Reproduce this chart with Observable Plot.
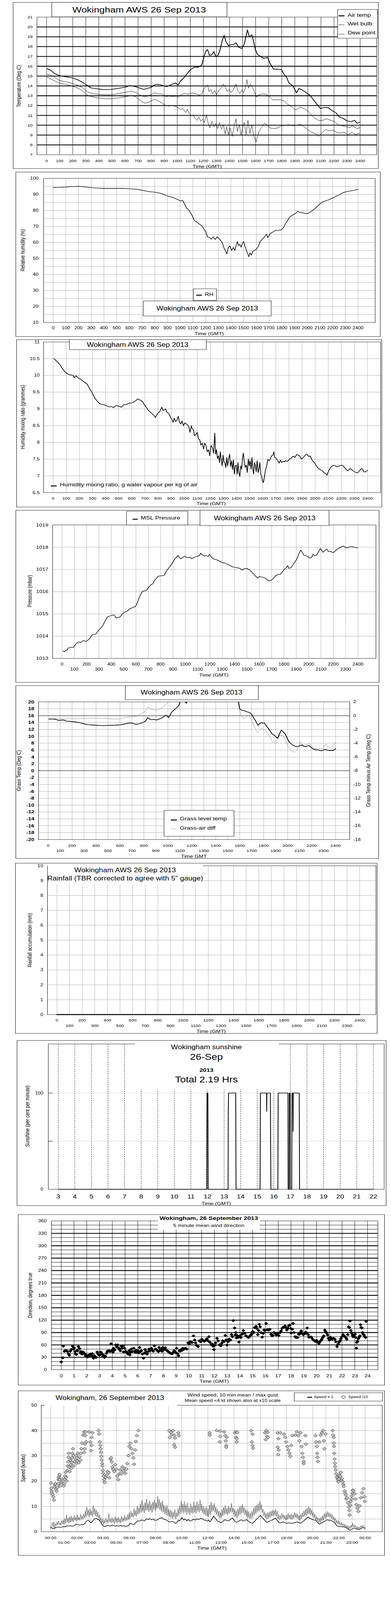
<!DOCTYPE html>
<html><head><meta charset="utf-8">
<script src="https://cdn.jsdelivr.net/npm/d3@7"></script>
<script src="https://cdn.jsdelivr.net/npm/@observablehq/plot@0.6"></script>
<style>
html,body{margin:0;padding:0;background:#fff;overflow:hidden;}
#page{position:relative;width:1000px;height:5000px;background:#fff;font-family:"Liberation Sans",Arial,Helvetica,sans-serif;color:#000;overflow:hidden;transform-origin:0 0;}
</style></head><body><div id="page"></div>
<script>
// ---------------- DATA ----------------
// time axis in HHMM-style units (100 per hour) for panels 1-6
const hhmmTicks = d3.range(0, 2401, 100);
const hhmmEven = d3.range(0, 2401, 200);
const hhmmOdd = d3.range(100, 2400, 200);
const tempTicks = d3.range(7, 22, 1);
const rhTicks = d3.range(10, 101, 10);
const mixTicks = [6.5,7,7.5,8,8.5,9,9.5,10,10.5,11];
const presTicks = [1013,1014,1015,1016,1017,1018,1019];
const grassTicks = d3.range(-20, 21, 2);
const diffTicks = d3.range(-18, 3, 2);
const rainTicks = d3.range(0, 11, 1);
const sunHours = d3.range(3, 23, 1);
const sunTicks = [0, 100];
const hours24 = d3.range(0, 25, 1);
const hoursEven = d3.range(0, 25, 2);
const hoursOdd = d3.range(1, 24, 2);
const dirTicks = d3.range(0, 361, 30);
const speedTicks = d3.range(0, 51, 10);

const airTemp = [[4,15.75],[31,15.6],[60,15.27],[98,15.05],[147,14.93],[195,14.82],[243,14.6],[282,14.3],[311,14.05],[340,13.8],[378,13.72],[436,13.62],[494,13.64],[552,13.76],[600,13.87],[639,14.04],[678,13.93],[716,13.76],[745,13.64],[774,13.76],[803,13.87],[832,14.15],[861,14.15],[890,14.04],[919,13.93],[958,14.15],[986,14.3],[1006,14.1],[1025,14.5],[1054,14.88],[1073,15.2],[1102,15.66],[1131,15.9],[1160,15.9],[1180,16.05],[1189,16.2],[1205,17.0],[1218,17.5],[1232,17.7],[1247,17.1],[1266,17.2],[1280,17.5],[1295,17.0],[1309,17.05],[1324,17.5],[1344,18.6],[1359,19.15],[1373,18.5],[1392,18.1],[1411,18.2],[1430,18.2],[1450,18.4],[1469,17.95],[1494,17.8],[1513,18.25],[1537,19.7],[1552,19.0],[1571,19.2],[1585,18.5],[1598,17.7],[1614,17.2],[1633,17.05],[1662,16.8],[1691,16.9],[1710,16.3],[1739,15.7],[1768,15.7],[1797,15.65],[1817,15.2],[1836,14.9],[1855,14.3],[1884,14.0],[1913,13.3],[1932,13.75],[1961,13.55],[1990,13.3],[2019,13.0],[2048,12.5],[2077,12.0],[2097,11.7],[2126,11.8],[2154,11.8],[2183,11.5],[2212,11.3],[2241,10.85],[2270,10.7],[2299,10.45],[2328,10.35],[2357,10.5],[2376,10.2],[2400,10.3]];
const wetBulb = [[4,15.2],[50,15.0],[98,14.55],[147,14.43],[195,14.26],[243,14.04],[282,13.76],[311,13.42],[340,13.25],[398,13.14],[456,13.1],[514,13.13],[562,13.25],[610,13.36],[649,13.48],[687,13.31],[716,13.08],[745,12.92],[774,12.97],[803,13.14],[826,13.3],[851,13.2],[880,13.2],[909,12.92],[938,12.97],[967,12.92],[996,12.97],[1006,12.8],[1025,13.08],[1054,13.25],[1083,13.14],[1112,13.3],[1141,13.2],[1170,13.08],[1189,13.2],[1205,13.76],[1218,13.87],[1232,14.1],[1243,13.42],[1257,13.64],[1270,13.2],[1286,13.53],[1301,13.08],[1317,13.53],[1334,13.76],[1353,14.2],[1367,13.87],[1382,13.42],[1398,13.64],[1411,13.3],[1430,13.64],[1450,14.2],[1463,13.53],[1479,13.2],[1494,13.59],[1508,13.3],[1521,13.76],[1533,14.65],[1546,13.76],[1560,14.2],[1575,13.87],[1591,13.42],[1604,12.86],[1624,13.08],[1653,13.2],[1681,13.14],[1701,12.97],[1730,12.58],[1768,12.58],[1797,12.58],[1817,12.47],[1846,12.13],[1874,11.9],[1903,11.57],[1923,11.68],[1942,11.85],[1971,11.68],[2000,11.46],[2029,11.01],[2058,10.67],[2087,10.45],[2116,10.5],[2144,10.67],[2173,10.5],[2202,10.39],[2231,10.05],[2260,9.94],[2290,9.88],[2318,9.77],[2338,9.94],[2357,9.83],[2376,9.66],[2400,9.77]];
const dewPoint = [[4,14.88],[50,14.6],[98,14.26],[147,14.15],[195,13.98],[243,13.76],[282,13.42],[311,13.08],[340,12.92],[398,12.75],[456,12.69],[514,12.71],[562,12.8],[610,12.92],[649,13.03],[678,12.92],[703,12.69],[726,12.41],[755,12.24],[784,12.35],[813,12.58],[832,12.63],[851,12.52],[880,12.3],[909,12.02],[938,11.96],[967,12.02],[986,11.9],[1006,11.79],[1025,11.62],[1044,11.68],[1064,11.29],[1077,11.62],[1093,11.17],[1108,10.95],[1122,11.06],[1135,10.73],[1151,10.5],[1166,10.84],[1180,10.39],[1195,10.61],[1208,10.28],[1224,11.06],[1237,10.17],[1251,9.72],[1266,10.39],[1282,9.83],[1295,10.17],[1309,9.66],[1324,10.28],[1338,9.61],[1353,10.05],[1367,9.1],[1378,9.83],[1392,9.04],[1405,9.72],[1421,8.87],[1436,9.94],[1450,10.67],[1459,9.38],[1475,10.05],[1488,8.99],[1502,9.83],[1513,10.28],[1527,9.04],[1541,10.5],[1556,9.15],[1571,10.05],[1585,8.93],[1595,8.59],[1604,8.31],[1614,8.82],[1629,9.49],[1649,9.83],[1668,10.22],[1687,10.0],[1710,9.72],[1739,9.66],[1768,9.72],[1797,9.94],[1826,10.0],[1855,10.05],[1884,9.94],[1913,10.0],[1942,10.11],[1971,9.83],[2000,9.55],[2029,9.27],[2058,9.15],[2081,8.87],[2106,9.21],[2135,9.55],[2163,9.44],[2192,9.49],[2221,9.27],[2250,9.21],[2280,9.27],[2309,9.04],[2338,9.27],[2367,9.04],[2400,9.21]];

const relHum = [[0,94.3],[50,94.4],[100,94.6],[150,94.9],[200,95.0],[250,94.7],[300,94.2],[350,93.9],[400,93.7],[450,93.7],[500,93.7],[550,93.8],[600,93.5],[650,93.3],[700,92.6],[750,91.8],[800,91.4],[850,90.6],[900,89.0],[950,87.9],[1000,86.0],[1020,86.2],[1050,81.5],[1070,80.0],[1093,77.0],[1113,73.5],[1130,72.8],[1150,71.5],[1172,70.3],[1190,68.0],[1202,66.5],[1215,63.5],[1232,63.0],[1245,62.0],[1260,63.5],[1275,61.8],[1291,63.5],[1305,62.5],[1320,61.0],[1331,60.0],[1345,56.5],[1355,55.0],[1367,52.8],[1378,56.5],[1391,57.8],[1405,55.0],[1418,56.8],[1431,55.0],[1442,58.5],[1450,60.5],[1460,58.0],[1470,58.8],[1480,57.0],[1490,59.5],[1500,60.6],[1510,57.5],[1520,55.5],[1530,53.5],[1540,51.0],[1550,53.5],[1560,52.0],[1570,54.3],[1585,55.0],[1600,55.7],[1615,57.5],[1629,60.3],[1649,62.3],[1665,63.5],[1679,65.2],[1690,63.0],[1709,65.6],[1730,66.5],[1749,67.6],[1775,67.5],[1798,67.9],[1815,69.5],[1828,71.6],[1845,73.5],[1858,75.6],[1888,77.2],[1910,78.2],[1927,79.5],[1945,78.6],[1967,78.5],[1985,78.0],[2007,78.2],[2025,79.0],[2046,80.2],[2066,81.5],[2086,82.9],[2106,84.5],[2126,85.5],[2146,86.0],[2166,86.5],[2185,87.2],[2205,87.8],[2225,88.8],[2245,89.5],[2265,90.3],[2285,91.2],[2315,91.8],[2344,92.2],[2370,92.6],[2400,93.1]];

const mixRatio = [[6,10.5],[20,10.45],[39,10.38],[55,10.3],[68,10.22],[87,10.12],[106,10.05],[125,10.02],[154,10.0],[160,9.93],[174,9.99],[193,9.92],[212,9.88],[231,9.82],[245,9.78],[260,9.74],[280,9.59],[295,9.5],[309,9.39],[322,9.3],[337,9.23],[357,9.15],[380,9.13],[405,9.1],[425,9.06],[444,9.07],[460,9.04],[480,9.1],[501,9.08],[520,9.05],[540,9.13],[559,9.13],[580,9.17],[598,9.18],[615,9.2],[636,9.26],[645,9.3],[656,9.28],[670,9.25],[685,9.2],[700,9.1],[714,9.03],[728,8.95],[743,8.9],[757,8.85],[771,8.8],[780,8.74],[790,8.82],[800,8.87],[815,8.93],[829,9.05],[840,8.95],[849,8.97],[858,9.0],[868,8.9],[877,8.88],[887,8.84],[896,8.75],[906,8.7],[915,8.6],[925,8.72],[935,8.62],[945,8.67],[955,8.78],[965,8.6],[975,8.55],[984,8.64],[995,8.5],[1005,8.58],[1022,8.54],[1035,8.48],[1045,8.3],[1055,8.5],[1061,8.41],[1070,8.38],[1080,8.2],[1090,8.24],[1100,8.3],[1110,8.1],[1119,8.08],[1128,7.92],[1138,7.98],[1148,7.8],[1157,7.98],[1167,7.91],[1176,7.72],[1186,7.78],[1195,7.6],[1205,7.9],[1215,7.85],[1225,7.68],[1234,8.28],[1240,7.65],[1247,7.78],[1254,7.52],[1262,7.6],[1270,7.4],[1276,7.72],[1283,7.49],[1290,7.3],[1297,7.62],[1304,7.42],[1311,7.39],[1318,7.25],[1325,7.55],[1332,7.3],[1340,7.52],[1347,7.65],[1354,7.28],[1362,7.45],[1369,7.19],[1376,7.48],[1383,7.05],[1390,7.3],[1398,7.32],[1405,7.05],[1411,7.4],[1418,7.09],[1425,6.98],[1432,7.3],[1439,7.2],[1446,7.55],[1452,7.68],[1460,7.4],[1467,7.25],[1475,7.32],[1482,7.1],[1490,7.5],[1497,7.3],[1504,7.45],[1511,7.2],[1518,7.55],[1524,7.22],[1530,7.05],[1537,7.4],[1543,7.32],[1550,7.12],[1557,7.45],[1565,7.1],[1572,7.22],[1578,7.4],[1585,7.05],[1591,6.99],[1598,6.85],[1605,6.8],[1612,6.95],[1620,7.16],[1630,7.3],[1639,7.49],[1649,7.45],[1659,7.52],[1668,7.6],[1678,7.62],[1685,7.72],[1690,7.55],[1697,7.55],[1706,7.5],[1716,7.45],[1725,7.38],[1735,7.47],[1745,7.4],[1755,7.44],[1765,7.42],[1775,7.46],[1785,7.43],[1794,7.45],[1804,7.5],[1815,7.52],[1832,7.59],[1845,7.55],[1860,7.64],[1871,7.62],[1885,7.58],[1896,7.5],[1909,7.55],[1920,7.6],[1930,7.64],[1938,7.65],[1950,7.58],[1960,7.6],[1967,7.55],[1980,7.45],[1996,7.39],[2010,7.3],[2025,7.22],[2040,7.18],[2054,7.16],[2068,7.1],[2083,7.06],[2090,7.02],[2100,7.12],[2112,7.22],[2125,7.28],[2141,7.32],[2155,7.3],[2168,7.27],[2179,7.29],[2193,7.31],[2208,7.32],[2222,7.26],[2237,7.19],[2250,7.15],[2266,7.22],[2280,7.18],[2295,7.14],[2310,7.1],[2324,7.09],[2338,7.15],[2353,7.22],[2362,7.2],[2372,7.12],[2385,7.12],[2401,7.17]];

const pressure = [[6,1013.33],[20,1013.3],[31,1013.35],[42,1013.38],[51,1013.47],[70,1013.5],[92,1013.49],[112,1013.64],[133,1013.74],[153,1013.72],[174,1013.81],[194,1013.76],[210,1013.82],[225,1013.89],[245,1014.06],[276,1014.1],[297,1014.27],[327,1014.44],[348,1014.66],[368,1014.86],[389,1014.91],[419,1014.96],[430,1014.9],[440,1014.81],[455,1014.84],[470,1014.86],[490,1015.0],[501,1015.05],[515,1015.1],[532,1015.13],[545,1015.22],[562,1015.25],[580,1015.31],[593,1015.32],[603,1015.4],[613,1015.54],[634,1015.83],[654,1016.02],[670,1016.04],[685,1016.05],[706,1016.22],[720,1016.3],[736,1016.36],[750,1016.5],[767,1016.61],[782,1016.7],[798,1016.71],[813,1016.72],[828,1016.73],[845,1016.9],[859,1017.02],[875,1017.12],[890,1017.24],[905,1017.38],[920,1017.51],[930,1017.55],[941,1017.63],[951,1017.55],[961,1017.48],[976,1017.52],[992,1017.6],[1007,1017.55],[1022,1017.53],[1038,1017.55],[1053,1017.48],[1063,1017.52],[1074,1017.55],[1090,1017.58],[1104,1017.6],[1115,1017.62],[1125,1017.73],[1140,1017.65],[1155,1017.6],[1170,1017.62],[1185,1017.58],[1196,1017.68],[1212,1017.55],[1227,1017.48],[1242,1017.45],[1258,1017.43],[1273,1017.38],[1288,1017.34],[1304,1017.3],[1319,1017.29],[1335,1017.25],[1350,1017.22],[1365,1017.18],[1380,1017.12],[1395,1017.1],[1411,1017.09],[1426,1017.07],[1442,1017.05],[1452,1017.0],[1462,1016.97],[1477,1017.03],[1493,1017.05],[1508,1017.02],[1524,1016.97],[1539,1016.88],[1554,1016.8],[1570,1016.7],[1585,1016.61],[1600,1016.68],[1616,1016.66],[1631,1016.65],[1646,1016.61],[1662,1016.55],[1677,1016.49],[1692,1016.5],[1708,1016.56],[1723,1016.65],[1739,1016.75],[1754,1016.77],[1769,1016.78],[1785,1016.88],[1800,1017.0],[1815,1017.05],[1830,1017.17],[1840,1017.05],[1851,1017.07],[1861,1017.1],[1871,1017.19],[1882,1017.28],[1892,1017.36],[1902,1017.45],[1912,1017.56],[1925,1017.75],[1937,1017.87],[1950,1017.75],[1963,1017.63],[1979,1017.62],[1994,1017.58],[2004,1017.52],[2014,1017.51],[2025,1017.55],[2035,1017.68],[2050,1017.62],[2066,1017.65],[2081,1017.8],[2096,1017.94],[2107,1017.85],[2117,1017.77],[2132,1017.85],[2147,1017.92],[2158,1017.82],[2168,1017.8],[2184,1017.8],[2199,1017.75],[2214,1017.82],[2229,1017.9],[2245,1017.95],[2260,1017.99],[2272,1018.03],[2284,1018.05],[2297,1018.0],[2311,1017.97],[2325,1018.0],[2340,1018.02],[2352,1018.03],[2365,1018.0],[2380,1017.98],[2399,1017.97]];

const grassTemp = [[6,15.07],[30,15.05],[53,14.98],[70,14.9],[84,14.66],[105,14.7],[126,14.75],[140,14.6],[152,14.43],[180,14.35],[211,14.24],[232,14.15],[253,14.02],[275,13.85],[295,13.7],[316,13.5],[337,13.38],[368,13.3],[400,13.22],[430,13.15],[463,13.09],[495,13.18],[526,13.22],[563,13.25],[600,13.31],[627,13.5],[653,13.7],[675,13.85],[695,13.86],[716,13.7],[737,13.47],[758,13.65],[779,13.86],[795,14.1],[811,14.34],[822,14.9],[832,15.46],[848,15.0],[863,14.82],[884,14.9],[905,14.75],[926,15.0],[947,15.3],[966,15.7],[985,16.16],[996,15.8],[1006,15.46],[1020,16.3],[1032,17.06],[1053,17.7],[1070,18.2],[1084,18.66],[1095,19.3],[1101,19.94],[1115,21.0],[1135,20.4],[1154,19.6],[1175,21.5],[1250,24],[1350,25],[1450,24],[1550,22],[1589,19.94],[1600,18.0],[1611,17.7],[1626,17.5],[1642,17.4],[1663,17.1],[1684,16.9],[1695,16.5],[1705,16.1],[1716,15.3],[1726,14.8],[1740,14.0],[1752,13.2],[1765,13.7],[1779,14.0],[1792,13.8],[1806,13.86],[1819,13.2],[1832,12.6],[1848,11.8],[1863,11.0],[1874,10.6],[1884,10.4],[1900,9.9],[1916,9.44],[1930,10.6],[1947,11.78],[1963,11.3],[1979,10.66],[1995,9.5],[2011,8.42],[2026,7.9],[2042,7.46],[2058,7.2],[2074,6.98],[2095,7.14],[2108,7.4],[2122,7.46],[2135,7.1],[2147,6.98],[2163,7.2],[2179,7.3],[2195,6.8],[2211,6.34],[2232,6.1],[2253,6.02],[2268,5.9],[2284,5.79],[2300,6.05],[2316,6.18],[2332,6.0],[2347,5.86],[2363,5.9],[2379,5.86],[2390,6.1],[2400,6.43]];
// grass minus air temperature, right-axis units
const grassAirDiff = [[6,-0.59],[30,-0.5],[53,-0.43],[75,-0.4],[100,-0.35],[120,-0.45],[137,-0.51],[160,-0.45],[190,-0.43],[220,-0.45],[253,-0.43],[285,-0.42],[316,-0.4],[337,-0.35],[368,-0.38],[400,-0.35],[432,-0.38],[463,-0.4],[495,-0.43],[526,-0.45],[560,-0.51],[600,-0.45],[632,-0.3],[653,-0.27],[674,-0.19],[695,-0.2],[716,-0.11],[737,-0.1],[758,0.1],[779,0.29],[795,0.45],[811,0.61],[822,1.0],[832,1.25],[848,1.05],[863,0.93],[884,0.85],[905,0.77],[926,0.95],[947,1.09],[968,1.4],[985,1.65],[997,1.9],[1006,2.0],[1030,2.8],[1150,3.5],[1300,3.5],[1420,2.8],[1470,2.2],[1484,1.9],[1500,2.4],[1560,2.6],[1589,2.0],[1600,0.8],[1611,0.05],[1626,-0.3],[1642,-0.43],[1658,-0.1],[1674,0.05],[1684,-0.3],[1695,-0.59],[1710,-1.1],[1726,-1.71],[1740,-2.2],[1752,-2.51],[1765,-2.1],[1779,-1.87],[1795,-2.0],[1810,-2.03],[1826,-2.4],[1842,-2.83],[1858,-3.3],[1874,-3.79],[1890,-3.9],[1905,-4.03],[1920,-3.4],[1933,-2.83],[1950,-2.9],[1968,-2.99],[1985,-3.7],[2000,-4.43],[2016,-4.8],[2032,-5.15],[2045,-5.2],[2059,-5.31],[2072,-5.1],[2084,-4.83],[2095,-4.3],[2105,-3.79],[2115,-4.1],[2126,-4.27],[2142,-4.3],[2158,-4.19],[2172,-4.15],[2185,-4.11],[2200,-4.4],[2221,-4.75],[2237,-4.8],[2253,-4.83],[2274,-4.8],[2295,-4.75],[2305,-4.4],[2316,-4.11],[2332,-4.5],[2347,-4.67],[2363,-4.55],[2379,-4.35],[2390,-4.1],[2400,-3.87]];

const rainfall = [[0,0],[2400,0]];

// sunshine, hours GMT vs per cent per minute
const sunshine = [[3,0],[11.95,0],[11.96,58],[11.97,100],[12.02,100],[12.03,58],[12.04,0],[13.24,0],[13.25,80],[13.27,100],[13.70,100],[13.72,0],[15.17,0],[15.19,100],[15.56,100],[15.57,81],[15.58,100],[15.79,100],[15.80,60],[15.82,0],[16.24,0],[16.26,100],[16.85,100],[16.86,0],[16.92,0],[16.93,100],[16.98,100],[16.99,0],[17.08,0],[17.09,100],[17.15,100],[17.16,60],[17.17,100],[17.53,100],[17.55,0],[22,0]];

// wind direction (5-min mean), hours vs degrees
const windDir = [[0.0,19],[0.12,29],[0.16,57],[0.24,45],[0.32,46],[0.43,46],[0.5,44],[0.59,38],[0.63,35],[0.71,45],[0.79,49],[0.89,57],[0.95,50],[1.0,53],[1.08,44],[1.14,38],[1.2,37],[1.24,47],[1.28,46],[1.34,56],[1.44,51],[1.5,41],[1.54,44],[1.58,43],[1.64,38],[1.7,43],[1.78,40],[1.84,39],[1.9,34],[1.97,35],[2.05,31],[2.13,35],[2.2,33],[2.29,38],[2.35,36],[2.43,39],[2.48,32],[2.53,28],[2.6,34],[2.67,31],[2.73,30],[2.82,43],[2.87,39],[2.93,36],[3.0,35],[3.08,43],[3.12,42],[3.18,38],[3.26,32],[3.33,35],[3.4,30],[3.46,33],[3.55,40],[3.61,45],[3.66,45],[3.75,46],[3.83,44],[3.91,63],[3.98,47],[4.05,43],[4.1,52],[4.18,48],[4.26,60],[4.35,55],[4.42,60],[4.49,53],[4.56,50],[4.63,46],[4.7,57],[4.77,52],[4.84,58],[4.88,43],[4.95,52],[5.05,45],[5.12,42],[5.19,41],[5.24,38],[5.33,46],[5.38,36],[5.43,42],[5.49,50],[5.58,44],[5.68,52],[5.75,45],[5.82,42],[5.88,47],[5.93,42],[6.02,46],[6.09,41],[6.14,54],[6.2,44],[6.28,46],[6.36,38],[6.44,28],[6.5,40],[6.57,49],[6.65,44],[6.72,38],[6.8,44],[6.87,50],[6.95,46],[7.07,52],[7.14,47],[7.21,45],[7.3,58],[7.38,50],[7.46,49],[7.54,46],[7.61,44],[7.66,54],[7.75,47],[7.83,50],[7.9,45],[7.95,54],[8.05,49],[8.15,53],[8.25,47],[8.35,45],[8.42,43],[8.5,41],[8.55,40],[8.65,39],[8.7,39],[8.78,42],[8.84,46],[8.92,43],[8.99,41],[9.04,52],[9.12,39],[9.19,34],[9.24,46],[9.33,45],[9.4,49],[9.47,47],[9.53,52],[9.63,50],[9.73,52],[9.83,50],[9.93,65],[10.03,63],[10.13,68],[10.25,66],[10.36,82],[10.45,72],[10.52,65],[10.62,59],[10.72,56],[10.82,70],[10.92,68],[11.01,74],[11.11,71],[11.21,69],[11.31,71],[11.41,75],[11.5,70],[11.57,80],[11.66,66],[11.76,60],[11.84,62],[11.9,57],[11.96,49],[12.03,59],[12.1,65],[12.2,76],[12.3,70],[12.4,60],[12.5,58],[12.57,64],[12.65,70],[12.75,68],[12.85,83],[12.92,72],[12.99,60],[13.07,68],[13.15,74],[13.25,72],[13.34,85],[13.41,80],[13.48,119],[13.58,101],[13.63,84],[13.68,90],[13.73,77],[13.78,83],[13.85,78],[13.92,67],[14.0,82],[14.08,78],[14.17,86],[14.27,95],[14.37,88],[14.47,82],[14.57,80],[14.67,78],[14.75,80],[14.82,83],[14.9,86],[15.0,93],[15.08,90],[15.16,102],[15.26,105],[15.33,100],[15.4,85],[15.46,95],[15.52,110],[15.58,104],[15.65,90],[15.75,79],[15.82,88],[15.89,96],[15.97,95],[16.05,112],[16.15,97],[16.25,96],[16.34,98],[16.44,86],[16.51,82],[16.58,83],[16.66,90],[16.74,89],[16.84,84],[16.94,88],[17.04,83],[17.14,90],[17.23,94],[17.3,100],[17.37,102],[17.45,104],[17.53,106],[17.6,102],[17.67,96],[17.75,100],[17.82,106],[17.9,108],[17.97,100],[18.02,89],[18.1,98],[18.16,112],[18.24,90],[18.32,80],[18.4,78],[18.46,79],[18.52,78],[18.6,86],[18.67,86],[18.74,90],[18.81,94],[18.89,88],[18.97,85],[19.05,87],[19.15,91],[19.22,88],[19.27,101],[19.35,85],[19.4,79],[19.5,79],[19.6,79],[19.7,74],[19.8,71],[19.9,69],[20.0,71],[20.1,66],[20.19,64],[20.27,68],[20.35,71],[20.42,74],[20.49,78],[20.57,82],[20.65,96],[20.72,92],[20.79,89],[20.87,84],[20.94,76],[21.02,72],[21.08,79],[21.16,76],[21.24,74],[21.34,76],[21.44,74],[21.52,68],[21.61,56],[21.69,62],[21.77,67],[21.84,70],[21.91,75],[21.99,80],[22.07,85],[22.15,82],[22.23,80],[22.3,78],[22.37,74],[22.45,85],[22.52,104],[22.57,102],[22.62,118],[22.69,95],[22.76,89],[22.81,84],[22.86,80],[22.94,83],[23.02,86],[23.07,78],[23.12,52],[23.16,66],[23.21,69],[23.28,75],[23.35,79],[23.4,82],[23.45,109],[23.5,102],[23.55,101],[23.6,90],[23.65,86],[23.72,84],[23.79,80],[23.84,78],[23.89,117]];

// wind speed: 10-min mean (x1), max gust, and mean speed x10 shown where < 4 kt
const meanSpeed = [[0.0,1.8],[0.06,1.6],[0.15,1.2],[0.29,1.4],[0.4,1.7],[0.58,1.8],[0.75,1.7],[0.96,2.0],[1.1,1.9],[1.2,2.3],[1.35,2.2],[1.5,2.4],[1.6,2.2],[1.73,2.2],[1.85,2.6],[1.93,3.0],[2.05,2.8],[2.22,2.6],[2.35,2.8],[2.5,2.8],[2.6,3.2],[2.7,4.0],[2.8,4.4],[2.89,4.5],[3.0,3.8],[3.08,3.5],[3.2,4.2],[3.3,4.8],[3.37,5.1],[3.5,5.2],[3.6,4.8],[3.66,4.9],[3.75,4.2],[3.85,3.5],[3.95,2.6],[4.08,2.0],[4.2,2.2],[4.3,2.5],[4.43,2.4],[4.55,2.2],[4.7,2.6],[4.82,2.4],[4.95,2.2],[5.05,2.4],[5.2,2.2],[5.35,2.5],[5.45,2.2],[5.59,2.4],[5.7,2.0],[5.8,2.3],[5.88,2.2],[6.0,2.8],[6.07,3.3],[6.2,3.0],[6.36,2.8],[6.5,3.6],[6.65,4.3],[6.8,4.2],[6.9,4.6],[7.03,4.5],[7.15,4.2],[7.32,5.1],[7.45,4.8],[7.55,5.2],[7.71,4.7],[7.85,5.0],[7.95,4.4],[8.09,4.5],[8.2,5.0],[8.35,5.3],[8.48,5.6],[8.6,5.0],[8.75,4.8],[8.86,4.5],[9.0,4.0],[9.1,3.8],[9.25,4.1],[9.4,3.8],[9.54,3.3],[9.65,3.8],[9.75,4.6],[9.83,4.3],[9.92,4.8],[10.02,5.6],[10.15,4.6],[10.25,5.0],[10.4,4.3],[10.5,4.8],[10.65,4.2],[10.79,4.5],[10.9,5.0],[11.05,4.6],[11.18,5.1],[11.3,4.8],[11.45,5.3],[11.56,5.1],[11.7,4.6],[11.85,4.5],[11.95,4.2],[12.05,4.6],[12.14,3.9],[12.25,4.6],[12.35,5.4],[12.43,6.2],[12.55,5.4],[12.65,4.8],[12.72,4.1],[12.85,4.0],[13.0,3.5],[13.1,3.9],[13.2,4.4],[13.3,4.7],[13.45,4.4],[13.58,4.3],[13.7,4.8],[13.87,5.4],[13.95,4.8],[14.05,4.2],[14.16,3.7],[14.3,4.0],[14.42,4.4],[14.55,4.7],[14.7,4.2],[14.84,4.5],[14.95,4.8],[15.05,4.3],[15.13,3.9],[15.25,3.6],[15.41,3.3],[15.55,4.0],[15.7,4.9],[15.85,5.6],[15.99,6.4],[16.1,5.8],[16.2,5.2],[16.28,4.9],[16.38,4.2],[16.47,3.7],[16.6,3.9],[16.75,4.3],[16.86,4.5],[17.0,4.9],[17.15,5.4],[17.3,4.4],[17.44,3.5],[17.6,3.6],[17.73,3.9],[17.85,3.6],[18.02,3.3],[18.2,3.5],[18.4,3.3],[18.6,3.5],[18.79,3.9],[18.95,3.6],[19.08,3.3],[19.22,3.9],[19.36,4.5],[19.5,5.2],[19.65,5.8],[19.8,5.2],[19.94,4.9],[20.1,4.6],[20.23,4.5],[20.4,3.5],[20.52,3.0],[20.65,3.4],[20.81,3.9],[20.95,4.3],[21.1,4.7],[21.25,4.5],[21.39,4.5],[21.55,4.0],[21.68,3.5],[21.78,2.8],[21.87,2.2],[22.0,2.1],[22.16,2.0],[22.3,1.9],[22.45,1.8],[22.6,1.4],[22.72,1.0],[22.83,0.55],[22.95,0.9],[23.12,1.4],[23.25,1.2],[23.4,1.0],[23.51,0.8],[23.65,1.2],[23.8,1.6],[23.9,1.5],[24.0,1.3]];
const gustSpeed = [[0.0,1.2],[0.06,2.5],[0.12,3.6],[0.18,1.8],[0.24,4.0],[0.3,1.0],[0.36,3.2],[0.42,2.2],[0.48,3.8],[0.54,2.6],[0.6,4.2],[0.66,2.8],[0.72,3.6],[0.78,2.4],[0.84,4.4],[0.9,3.0],[0.96,4.6],[1.02,2.8],[1.08,5.2],[1.14,3.2],[1.2,6.6],[1.26,3.8],[1.32,5.4],[1.38,3.4],[1.44,5.8],[1.5,3.6],[1.56,6.2],[1.62,4.0],[1.68,5.6],[1.74,3.8],[1.8,6.4],[1.86,4.4],[1.92,5.8],[1.98,4.2],[2.04,6.6],[2.1,4.6],[2.16,5.8],[2.22,4.4],[2.28,6.8],[2.34,4.8],[2.4,6.2],[2.46,5.0],[2.52,7.0],[2.58,5.4],[2.64,8.2],[2.7,5.6],[2.76,9.8],[2.82,6.4],[2.88,8.6],[2.94,5.8],[3.0,9.0],[3.06,6.6],[3.12,8.2],[3.18,6.0],[3.24,10.3],[3.3,6.8],[3.36,9.2],[3.42,6.2],[3.48,8.6],[3.54,5.6],[3.6,7.8],[3.66,5.2],[3.72,6.6],[3.78,4.2],[3.84,5.6],[3.9,3.4],[3.96,5.0],[4.02,2.8],[4.08,4.6],[4.14,3.2],[4.2,5.4],[4.26,3.6],[4.32,4.8],[4.38,3.4],[4.44,7.2],[4.5,3.8],[4.56,5.2],[4.62,3.4],[4.68,5.6],[4.74,3.6],[4.8,5.0],[4.86,3.2],[4.92,6.0],[4.98,3.8],[5.04,5.4],[5.1,3.4],[5.16,5.8],[5.22,3.6],[5.28,5.2],[5.34,3.4],[5.4,6.2],[5.46,3.8],[5.52,5.6],[5.58,4.0],[5.64,6.6],[5.7,4.2],[5.76,5.8],[5.82,4.4],[5.88,6.8],[5.94,4.8],[6.0,7.6],[6.06,5.2],[6.12,8.2],[6.18,5.8],[6.24,7.4],[6.3,5.6],[6.36,9.2],[6.42,6.2],[6.48,8.4],[6.54,6.0],[6.6,10.2],[6.66,6.8],[6.72,9.6],[6.78,7.2],[6.84,11.0],[6.9,7.6],[6.96,12.4],[7.02,8.0],[7.08,10.6],[7.14,7.4],[7.2,11.6],[7.26,8.2],[7.32,13.0],[7.38,8.6],[7.44,11.2],[7.5,7.8],[7.56,12.2],[7.62,8.4],[7.68,10.8],[7.74,7.6],[7.8,11.8],[7.86,8.8],[7.92,12.6],[7.98,8.2],[8.04,11.4],[8.1,9.0],[8.16,14.0],[8.22,9.4],[8.28,12.8],[8.34,8.6],[8.4,11.6],[8.46,8.0],[8.52,12.2],[8.58,7.6],[8.64,10.6],[8.7,7.0],[8.76,9.8],[8.82,6.6],[8.88,10.4],[8.94,6.4],[9.0,9.0],[9.06,5.8],[9.12,8.6],[9.18,5.4],[9.24,8.2],[9.3,5.2],[9.36,7.8],[9.42,5.6],[9.48,8.8],[9.54,5.0],[9.6,7.6],[9.66,5.8],[9.72,9.2],[9.78,6.2],[9.84,10.4],[9.9,7.0],[9.96,12.2],[10.02,7.8],[10.08,11.0],[10.14,7.2],[10.2,12.0],[10.26,7.6],[10.32,10.8],[10.38,6.8],[10.44,11.6],[10.5,7.4],[10.56,9.6],[10.62,6.6],[10.68,11.2],[10.74,7.4],[10.8,10.0],[10.86,7.0],[10.92,11.8],[10.98,7.6],[11.04,10.4],[11.1,7.2],[11.16,12.0],[11.22,8.0],[11.28,10.8],[11.34,7.6],[11.4,12.6],[11.46,8.2],[11.52,11.0],[11.58,7.4],[11.64,10.2],[11.7,6.8],[11.76,9.4],[11.82,6.4],[11.88,9.8],[11.94,6.0],[12.0,9.2],[12.06,5.8],[12.12,10.6],[12.18,6.6],[12.24,11.8],[12.3,7.8],[12.36,10.6],[12.42,8.4],[12.48,11.2],[12.54,7.6],[12.6,9.8],[12.66,6.8],[12.72,9.0],[12.78,6.0],[12.84,8.2],[12.9,5.4],[12.96,7.6],[13.02,5.6],[13.08,8.8],[13.14,6.2],[13.2,9.6],[13.26,6.8],[13.32,10.4],[13.38,7.0],[13.44,9.2],[13.5,6.6],[13.56,10.0],[13.62,7.2],[13.68,9.6],[13.74,7.8],[13.8,11.2],[13.86,7.6],[13.92,9.4],[13.98,6.4],[14.04,8.8],[14.1,5.8],[14.16,8.2],[14.22,5.4],[14.28,9.0],[14.34,6.2],[14.4,9.8],[14.46,6.8],[14.52,10.2],[14.58,7.2],[14.64,10.8],[14.7,7.4],[14.76,9.6],[14.82,6.6],[14.88,8.8],[14.94,6.0],[15.0,8.6],[15.06,5.4],[15.12,8.0],[15.18,5.2],[15.24,7.4],[15.3,5.0],[15.36,8.2],[15.42,5.6],[15.48,9.4],[15.54,6.4],[15.6,10.2],[15.66,7.0],[15.72,10.6],[15.78,7.6],[15.84,11.2],[15.9,8.0],[15.96,12.0],[16.02,8.6],[16.08,10.8],[16.14,7.4],[16.2,9.0],[16.26,6.2],[16.32,8.0],[16.38,5.4],[16.44,7.2],[16.5,5.0],[16.56,7.6],[16.62,5.2],[16.68,7.8],[16.74,5.6],[16.8,8.2],[16.86,6.0],[16.92,8.6],[16.98,6.2],[17.04,8.4],[17.1,6.4],[17.16,9.0],[17.22,6.0],[17.28,8.2],[17.34,5.0],[17.4,6.8],[17.46,4.6],[17.52,6.4],[17.58,5.0],[17.64,7.2],[17.7,5.4],[17.76,6.8],[17.82,5.0],[17.88,6.4],[17.94,4.6],[18.0,6.6],[18.06,4.8],[18.12,7.2],[18.18,5.2],[18.24,6.8],[18.3,5.0],[18.36,7.0],[18.42,4.8],[18.48,6.6],[18.54,5.2],[18.6,7.6],[18.66,5.6],[18.72,7.2],[18.78,5.4],[18.84,7.0],[18.9,4.8],[18.96,6.4],[19.02,4.4],[19.08,6.8],[19.14,5.2],[19.2,7.4],[19.26,5.8],[19.32,8.2],[19.38,6.2],[19.44,8.8],[19.5,6.4],[19.56,9.2],[19.62,6.8],[19.68,10.0],[19.74,7.0],[19.8,9.4],[19.86,6.6],[19.92,8.6],[19.98,6.0],[20.04,7.6],[20.1,5.4],[20.16,7.0],[20.22,4.6],[20.28,6.0],[20.34,4.2],[20.4,5.6],[20.46,3.8],[20.52,5.4],[20.58,3.6],[20.64,5.8],[20.7,4.2],[20.76,6.4],[20.82,4.6],[20.88,7.2],[20.94,5.2],[21.0,7.6],[21.06,5.6],[21.12,8.0],[21.18,5.8],[21.24,7.6],[21.3,5.6],[21.36,7.2],[21.42,5.2],[21.48,6.8],[21.54,4.6],[21.6,6.0],[21.66,4.0],[21.72,5.4],[21.78,3.4],[21.84,4.6],[21.9,3.0],[21.96,4.4],[22.02,2.8],[22.08,3.8],[22.14,2.4],[22.2,3.6],[22.26,2.2],[22.32,3.2],[22.38,2.0],[22.44,3.0],[22.5,1.6],[22.56,2.6],[22.62,1.4],[22.68,2.4],[22.74,1.0],[22.8,2.2],[22.86,1.2],[22.92,2.6],[22.98,1.6],[23.04,3.4],[23.1,1.8],[23.16,2.8],[23.22,1.6],[23.28,2.4],[23.34,1.2],[23.4,2.0],[23.46,1.0],[23.52,1.8],[23.58,1.2],[23.64,2.2],[23.7,1.6],[23.76,2.6],[23.82,1.8],[23.88,2.4],[23.94,1.8],[24.0,1.4]];
const speedX10 = [[0.02,19.2],[0.04,17.2],[0.06,16.1],[0.08,15.4],[0.15,14.7],[0.2,13.8],[0.25,12.5],[0.3,17.7],[0.33,18.6],[0.36,19.0],[0.4,16.8],[0.45,16.0],[0.52,17.5],[0.58,19.0],[0.6,20.6],[0.62,21.5],[0.65,22.0],[0.68,22.6],[0.7,20.6],[0.73,18.1],[0.8,19.5],[0.88,20.8],[0.95,19.2],[1.0,18.1],[1.03,19.0],[1.07,20.6],[1.1,22.0],[1.14,23.5],[1.18,21.5],[1.22,20.1],[1.27,24.2],[1.3,26.0],[1.33,27.6],[1.36,29.4],[1.38,31.0],[1.4,25.6],[1.45,23.8],[1.5,28.3],[1.53,26.5],[1.57,25.1],[1.6,27.4],[1.63,29.2],[1.66,31.0],[1.7,32.8],[1.73,30.1],[1.76,26.0],[1.82,27.8],[1.9,28.7],[1.93,30.1],[1.96,27.1],[2.0,29.2],[2.04,28.0],[2.08,31.0],[2.14,27.3],[2.2,29.6],[2.25,28.3],[2.3,31.0],[2.35,32.8],[2.4,35.0],[2.48,38.2],[2.55,39.5],[2.56,31.4],[2.6,32.8],[2.62,34.7],[2.64,38.0],[2.66,39.5],[2.7,35.5],[2.93,39.5],[3.04,35.5],[3.08,32.1],[3.12,34.1],[3.12,37.3],[3.18,39.1],[3.66,40.0],[3.7,38.6],[3.75,35.5],[3.79,34.1],[3.81,32.8],[3.85,31.4],[3.87,29.8],[3.89,28.3],[3.93,26.9],[3.95,26.0],[3.98,24.2],[4.0,23.1],[4.04,22.0],[4.08,20.6],[4.12,19.5],[4.2,21.5],[4.27,22.4],[4.35,23.8],[4.43,23.3],[4.48,21.3],[4.56,28.7],[4.62,29.2],[4.66,27.6],[4.72,25.6],[4.77,24.7],[4.85,23.8],[4.93,26.5],[5.0,24.7],[5.08,22.0],[5.16,20.6],[5.24,22.9],[5.31,24.4],[5.39,22.9],[5.47,25.6],[5.54,24.0],[5.62,25.1],[5.7,23.1],[5.77,24.7],[5.85,26.9],[5.93,30.1],[6.0,33.7],[6.08,35.0],[6.16,32.8],[6.24,31.0],[6.31,29.2],[6.37,26.7],[6.45,32.3],[6.5,35.7],[6.58,38.0],[6.7,40.0],[9.05,40.0],[9.09,37.3],[9.16,39.3],[9.24,38.4],[9.34,40.0],[9.43,38.2],[9.49,37.1],[9.43,34.4],[9.49,33.4],[9.74,39.1],[9.78,38.0],[12.13,39.1],[12.13,38.2],[12.67,40.0],[12.94,39.8],[12.94,37.7],[12.9,35.5],[13.24,39.5],[13.32,38.0],[13.36,35.9],[13.4,34.1],[13.4,33.4],[13.44,37.3],[14.05,39.1],[14.15,39.5],[14.24,39.3],[14.15,37.3],[14.2,36.8],[14.19,35.5],[15.3,40.0],[15.4,38.6],[15.36,35.5],[15.4,34.1],[15.44,33.0],[16.36,39.1],[16.46,40.0],[16.55,39.3],[16.51,37.7],[16.4,36.4],[16.59,37.3],[17.32,39.1],[17.52,39.1],[17.38,36.8],[17.32,33.4],[17.4,32.3],[17.36,30.5],[17.81,38.6],[17.9,37.3],[17.96,35.5],[18.06,33.7],[18.14,32.3],[18.22,31.0],[18.29,29.8],[18.36,34.1],[18.44,38.0],[18.67,38.2],[18.79,39.5],[18.9,38.0],[18.98,35.9],[19.06,39.1],[19.15,33.7],[19.21,31.0],[19.25,29.4],[19.31,27.8],[19.31,26.9],[19.44,38.0],[19.48,34.6],[20.21,38.0],[20.25,35.5],[20.31,33.7],[20.33,31.0],[20.36,29.4],[20.4,27.8],[20.5,35.5],[20.6,38.2],[20.69,39.1],[20.79,40.0],[20.85,35.9],[20.89,32.8],[20.98,38.6],[21.52,40.0],[21.56,38.2],[21.6,37.3],[21.6,35.0],[21.62,33.7],[21.64,31.0],[21.67,28.7],[21.69,27.1],[21.71,25.8],[21.75,24.4],[21.79,22.9],[21.85,21.7],[21.88,21.2],[21.91,20.6],[21.95,19.7],[22.0,20.8],[22.04,22.4],[22.1,22.0],[22.14,23.5],[22.2,20.2],[22.23,21.0],[22.29,19.7],[22.33,18.7],[22.37,17.9],[22.43,16.1],[22.47,15.2],[22.52,14.5],[22.56,13.0],[22.62,13.4],[22.68,11.4],[22.75,9.8],[22.79,8.4],[22.81,6.6],[22.86,10.5],[22.9,12.0],[22.95,13.0],[22.98,14.1],[23.02,15.2],[23.05,16.4],[23.1,16.1],[23.2,15.0],[23.25,12.9],[23.33,10.7],[23.41,9.3],[23.48,8.0],[23.58,10.2],[23.68,13.4],[23.77,15.4],[23.87,17.0],[23.95,13.8],[23.98,12.0]];

// ---------------- RENDERING ----------------
const FONT = '"Liberation Sans", Arial, Helvetica, sans-serif';
const page = document.getElementById("page");
const X = d => d[0], Y = d => d[1];
const dotted = {stroke: "#000", strokeWidth: 1, strokeDasharray: "1,2"};

function add(css, txt) {
  const d = document.createElement("div");
  Object.assign(d.style, {position: "absolute"}, css);
  if (txt != null) d.textContent = txt;
  page.appendChild(d);
  return d;
}
function rect(l, t, r, b, border = 1, fill = "#fff") {
  return add({left: l + "px", top: t + "px", width: (r - l) + "px", height: (b - t) + "px", boxSizing: "border-box",
    border: border ? border + "px solid #000" : "none", background: fill});
}
function frameBox(l, t, r, b) { return rect(l, t, r, b, 1.5, "transparent"); }
function label(x, y, s, {size = 14, anchor = "middle", weight = "normal", rotate = 0} = {}) {
  const tx = anchor === "start" ? "0" : anchor === "end" ? "-100%" : "-50%";
  return add({left: x + "px", top: y + "px", fontSize: size + "px", fontWeight: weight, lineHeight: "1", whiteSpace: "nowrap",
    transform: `translate(${tx},-50%)` + (rotate ? ` rotate(${rotate}deg)` : "")}, s);
}
function sample(x1, x2, y, w, color = "#000") {
  return add({left: x1 + "px", top: (y - w / 2) + "px", width: (x2 - x1) + "px", height: w + "px", background: color});
}
function chart(F, P, xd, yd, marks) {
  const svg = Plot.plot({
    width: F[2] - F[0], height: F[3] - F[1],
    marginLeft: P[0] - F[0], marginTop: P[1] - F[1], marginRight: F[2] - P[2], marginBottom: F[3] - P[3],
    x: {domain: xd, axis: null}, y: {domain: yd, axis: null},
    style: {background: "transparent", fontFamily: FONT, overflow: "visible", color: "#000"},
    marks
  });
  Object.assign(svg.style, {position: "absolute", left: F[0] + "px", top: F[1] + "px", maxWidth: "none"});
  page.appendChild(svg);
}
const xt = (ticks, dy, size, fmt = d => String(d)) =>
  Plot.text(ticks, {x: d => d, text: fmt, frameAnchor: "bottom", dy, lineAnchor: "middle", fontSize: size, fill: "#000"});
const yt = (ticks, dx, size, weight = "normal") =>
  Plot.text(ticks, {y: d => d, text: d => String(d), frameAnchor: "left", dx: -dx, textAnchor: "end", lineAnchor: "middle", fontSize: size, fontWeight: weight, fill: "#000"});

// ---- Panel 1: temperatures ----
{
  const F = [33, 7, 968, 527], P = [94, 53, 963, 483];
  frameBox(...F);
  chart(F, P, [-74, 2527], [7, 21], [
    Plot.ruleX(hhmmTicks, {stroke: "#000", strokeWidth: 1}),
    Plot.ruleY(d3.range(8, 21), {stroke: "#000", strokeWidth: 2.5}),
    Plot.frame({stroke: "#000"}),
    Plot.line(dewPoint, {x: X, y: Y, stroke: "#000", strokeWidth: 1}),
    Plot.line(wetBulb, {x: X, y: Y, stroke: "#000", strokeWidth: 1}),
    Plot.line(airTemp, {x: X, y: Y, stroke: "#000", strokeWidth: 2}),
    xt(hhmmTicks, 20, 11.5),
    yt(tempTicks, 11, 12)
  ]);
  rect(132, 7, 581, 53);
  label(356, 30, "Wokingham AWS 26 Sep 2013", {size: 25});
  rect(863, 29, 966, 120);
  sample(866, 881, 49, 3); label(889, 46.5, "Air temp", {size: 16, anchor: "start"});
  sample(866, 881, 77, 1); label(889, 74, "Wet bulb", {size: 16, anchor: "start"});
  sample(866, 881, 106, 1); label(889, 103, "Dew point", {size: 16, anchor: "start"});
  label(530, 520, "Time (GMT)", {size: 14});
  label(48, 269, "Temperature (Deg C)", {size: 14, rotate: -90});
}

// ---- Panel 2: relative humidity ----
{
  const F = [40, 537, 973, 1052], P = [111, 557, 959, 1007];
  frameBox(...F);
  chart(F, P, [-75, 2535], [10, 100], [
    Plot.ruleX(hhmmTicks, dotted),
    Plot.ruleY(d3.range(15, 100, 5), dotted),
    Plot.frame({stroke: "#000"}),
    Plot.line(relHum, {x: X, y: Y, stroke: "#000", strokeWidth: 1.6}),
    xt(hhmmTicks, 18, 12.5),
    yt(rhTicks, 13, 13)
  ]);
  rect(494, 902, 554, 940);
  sample(502, 516, 922, 3); label(524, 920, "RH", {size: 15, anchor: "start"});
  rect(366, 940, 694, 988);
  label(530, 964, "Wokingham AWS 26 Sep 2013", {size: 19});
  label(535, 1042, "Time (GMT)", {size: 14});
  label(58, 782, "Relative humidity (%)", {size: 14, rotate: -90});
}

// ---- Panel 3: humidity mixing ratio ----
{
  const F = [42, 1061, 977, 1585], P = [111, 1068, 973, 1539];
  frameBox(...F);
  chart(F, P, [-73, 2500], [6.5, 11], [
    Plot.ruleX(hhmmTicks, dotted),
    Plot.ruleY([7, 7.5, 8, 8.5, 9, 9.5, 10, 10.5], dotted),
    Plot.frame({stroke: "#000"}),
    Plot.line(mixRatio, {x: X, y: Y, stroke: "#000", strokeWidth: 1.8}),
    xt(hhmmTicks, 18, 12),
    yt(mixTicks, 10, 13)
  ]);
  rect(177, 1061, 528, 1093);
  label(352, 1077, "Wokingham AWS 26 Sep 2013", {size: 19});
  sample(130, 145, 1518, 3);
  label(153, 1515, "Humidity mixing ratio, g water vapour per kg of air", {size: 16, anchor: "start"});
  label(540, 1573, "Time (GMT)", {size: 14});
  label(58, 1303, "Humidity mixing ratio (grammes)", {size: 14, rotate: -90});
}

// ---- Panel 4: MSL pressure ----
{
  const F = [40, 1594, 970, 2133], P = [134, 1640, 961, 2057];
  frameBox(...F);
  chart(F, P, [-76, 2546], [1013, 1019], [
    Plot.ruleX(hhmmTicks, dotted),
    Plot.ruleY([1014, 1015, 1016, 1017, 1018], dotted),
    Plot.frame({stroke: "#000"}),
    Plot.line(pressure, {x: X, y: Y, stroke: "#000", strokeWidth: 1.6}),
    xt(hhmmEven, 19, 12.5),
    xt(hhmmOdd, 34, 12.5),
    yt(presTicks, 11, 14)
  ]);
  rect(323, 1597, 481, 1641);
  sample(339, 352, 1622, 3); label(360, 1619, "MSL Pressure", {size: 16, anchor: "start"});
  rect(511, 1594, 842, 1643);
  label(677, 1619, "Wokingham AWS 26 Sep 2013", {size: 19});
  label(547, 2109, "Time (GMT)", {size: 14});
  label(76, 1847, "Pressure (mbar)", {size: 14, rotate: -90});
}

// ---- Panel 5: grass temperature ----
{
  const F = [40, 2142, 969, 2683], P = [98, 2193, 894, 2623];
  frameBox(...F);
  const toLeft = r => 2 * (r + 8); // right axis (grass minus air) mapped onto left axis
  chart(F, P, [-80, 2518], [-20, 20], [
    Plot.ruleX(hhmmTicks, dotted),
    Plot.ruleY(grassTicks.filter(v => v > -20 && v < 20 && v !== 0 && v !== 16), dotted),
    Plot.ruleY([0, 16], {stroke: "#000", strokeWidth: 1.2}),
    Plot.frame({stroke: "#000"}),
    Plot.line(grassAirDiff, {x: X, y: d => toLeft(d[1]), stroke: "#888", strokeWidth: 1, clip: true}),
    Plot.line(grassTemp, {x: X, y: Y, stroke: "#000", strokeWidth: 2, clip: true}),
    xt(hhmmEven, 19, 12),
    xt(hhmmOdd, 35, 12),
    yt(grassTicks, 11, 14, "bold"),
    Plot.text(diffTicks, {y: d => toLeft(d), text: d => String(d), frameAnchor: "right", dx: 9, textAnchor: "start", lineAnchor: "middle", fontSize: 13, fill: "#000"})
  ]);
  rect(320, 2142, 661, 2187);
  label(490, 2164, "Wokingham AWS 26 Sep 2013", {size: 19});
  rect(419, 2532, 599, 2614);
  sample(437, 452, 2562, 3); label(460, 2559, "Grass level temp", {size: 16, anchor: "start"});
  sample(437, 452, 2590, 1, "#888"); label(460, 2588, "Grass-air diff", {size: 16, anchor: "start"});
  label(496, 2676, "Time GMT", {size: 14});
  label(48, 2408, "Grass Temp (Deg C)", {size: 14, rotate: -90});
  label(942, 2408, "Grass Temp minus Air Temp (Deg C)", {size: 14, rotate: -90});
}

// ---- Panel 6: rainfall ----
{
  const F = [39, 2697, 965, 3230], P = [121, 2705, 961, 3170];
  frameBox(...F);
  chart(F, P, [-75, 2529], [0, 10], [
    Plot.ruleX(hhmmTicks, dotted),
    Plot.ruleY(d3.range(1, 10), dotted),
    Plot.frame({stroke: "#000"}),
    Plot.line(rainfall, {x: X, y: Y, stroke: "#000", strokeWidth: 3}),
    xt(hhmmEven, 18, 12),
    xt(hhmmOdd, 35, 12),
    yt(rainTicks, 11, 13)
  ]);
  rect(122, 2699, 519, 2765, 0);
  label(320, 2719, "Wokingham AWS 26 Sep 2013", {size: 19});
  label(121, 2745, "Rainfall (TBR corrected to agree with 5\" gauge)", {size: 19, anchor: "start"});
  label(540, 3222, "Time (GMT)", {size: 14});
  label(76, 2938, "Rainfall accumulation (mm)", {size: 14, rotate: -90});
}

// ---- Panel 7: sunshine ----
{
  const F = [43, 3251, 988, 3768], P = [123, 3262, 982, 3716];
  frameBox(...F);
  chart(F, P, [2.4, 22.65], [0, 151], [
    Plot.ruleX(sunHours, {stroke: "#000", strokeWidth: 1, strokeDasharray: "4,3"}),
    Plot.ruleY([50, 100], {stroke: "#aaa", strokeWidth: 1, strokeDasharray: "1,1"}),
    Plot.ruleY([50, 100], {x1: 2.4, x2: 2.68, stroke: "#000", strokeWidth: 1}),
    Plot.frame({stroke: "#000"}),
    Plot.line(sunshine, {x: X, y: Y, stroke: "#000", strokeWidth: 2}),
    xt(sunHours, 23, 18),
    yt(sunTicks, 13, 12.5)
  ]);
  rect(345, 3261, 713, 3327, 0);
  rect(360, 3326, 701, 3404, 0);
  label(528, 3272, "Wokingham sunshine", {size: 19});
  label(528, 3303, "26-Sep", {size: 26});
  label(528, 3344, "2013", {size: 16, weight: "bold"});
  label(528, 3374, "Total 2.19 Hrs", {size: 26});
  label(553, 3761, "Time (GMT)", {size: 14});
  label(70, 3488, "Sunshine (per cent per minute)", {size: 14, rotate: -90});
}

// ---- Panel 8: wind direction ----
{
  const F = [46, 3795, 984, 4329], P = [131, 3815, 966, 4280];
  frameBox(...F);
  chart(F, P, [-0.77, 24.81], [0, 360], [
    Plot.ruleY(d3.range(10, 360, 10), {stroke: "#000", strokeWidth: 1}),
    Plot.ruleY(d3.range(30, 360, 30), {stroke: "#000", strokeWidth: 2.5}),
    Plot.ruleX(hours24, {stroke: "#000", strokeWidth: 1}),
    Plot.frame({stroke: "#000"}),
    Plot.dot(windDir, {x: X, y: Y, symbol: "diamond2", r: 3.5, fill: "#000", stroke: "#000"}),
    xt(hours24, 19, 14),
    yt(dirTicks, 12, 13)
  ]);
  rect(404, 3813, 664, 3843, 0);
  label(534, 3806, "Wokingham,  26 September 2013", {size: 16.5, weight: "bold"});
  label(534, 3829, "5 minute mean wind direction", {size: 14});
  label(548, 4316, "Time (GMT)", {size: 14});
  label(77, 4048, "Direction, degrees true", {size: 14, rotate: -90});
}

// ---- Panel 9: wind speed ----
{
  const F = [46, 4346, 984, 4861], P = [105, 4391, 977, 4786];
  frameBox(...F);
  const hm = d => String(d % 24).padStart(2, "0") + ":00";
  chart(F, P, [-0.72, 25.3], [0, 50], [
    Plot.ruleX(hours24, dotted),
    Plot.ruleY(d3.range(5, 50, 5), dotted),
    Plot.frame({stroke: "#000"}),
    Plot.ruleY([50], {x1: -0.72, x2: -0.48, stroke: "#000", strokeWidth: 1}),
    Plot.line(gustSpeed, {x: X, y: Y, stroke: "#404040", strokeWidth: 1}),
    Plot.line(meanSpeed, {x: X, y: Y, stroke: "#000", strokeWidth: 1.6}),
    Plot.dot(speedX10, {x: X, y: Y, symbol: "diamond2", r: 4.5, fill: "#c0c0c0", stroke: "#333", strokeWidth: 1}),
    xt(hoursEven, 19, 12, hm),
    xt(hoursOdd, 34, 12, hm),
    yt(speedTicks, 11, 13)
  ]);
  rect(114, 4388, 454, 4394, 0);
  label(281, 4369, "Wokingham,  26 September 2013", {size: 19});
  label(595, 4359, "Wind speed, 10 min mean / max gust", {size: 14});
  label(595, 4376, "Mean speed <4 kt shown also at x10 scale", {size: 13});
  rect(752, 4352, 979, 4379);
  sample(786, 798, 4366, 3); label(803, 4365, "Speed x 1", {size: 11, anchor: "start"});
  add({left: "874px", top: "4361px", width: "7px", height: "7px", background: "#e0e0e0", border: "1px solid #333", transform: "rotate(45deg)"});
  label(891, 4365, "Speed /10", {size: 11, anchor: "start"});
  label(542, 4838, "Time (GMT)", {size: 14});
  label(59, 4588, "Speed (knots)", {size: 14, rotate: -90});
}

// The window may be shorter than the 5000px page; fit the whole page vertically into it.
const fit = Math.min(1, (window.innerHeight || 5000) / 5000);
page.style.transform = `scale(1, ${fit})`;
</script></body></html>
